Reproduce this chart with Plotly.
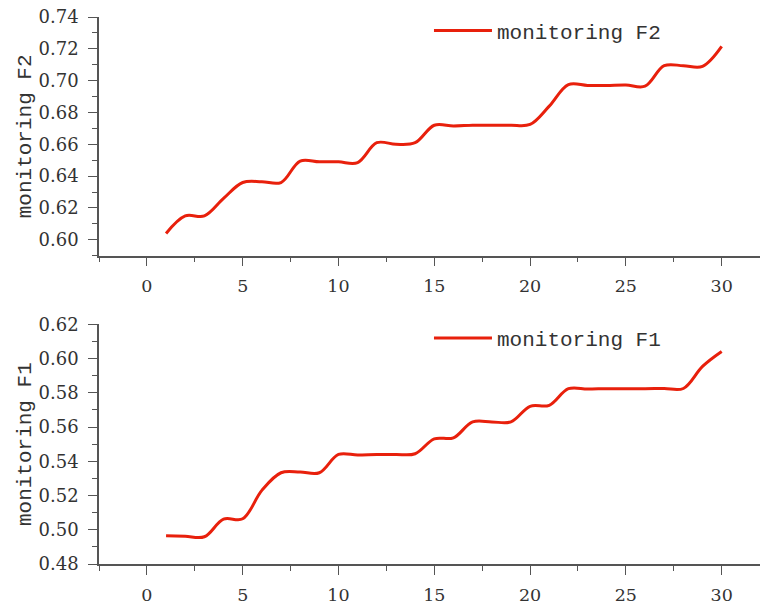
import plotly.graph_objects as go
from plotly.subplots import make_subplots

x_vals = list(range(1, 31))
f2_vals = [0.604, 0.615, 0.615, 0.626, 0.636, 0.6365, 0.636, 0.6495, 0.649, 0.649,
           0.6485, 0.661, 0.660, 0.661, 0.672, 0.6715, 0.672, 0.672, 0.672, 0.6725,
           0.684, 0.6975, 0.697, 0.697, 0.6973, 0.6965, 0.7094, 0.7094, 0.709, 0.7215]
f1_vals = [0.4965, 0.4962, 0.4959, 0.5062, 0.5064, 0.523, 0.5333, 0.5337, 0.5333, 0.544,
           0.5436, 0.544, 0.544, 0.5444, 0.5531, 0.5537, 0.563, 0.563, 0.563, 0.5721,
           0.5727, 0.5824, 0.5822, 0.5824, 0.5824, 0.5824, 0.5825, 0.5825, 0.5954, 0.6041]

FONT = "Liberation Mono"
NUMFONT = "DejaVu Serif"
RED = "#e8200c"
AX = "#555555"
TXT = "#333333"

fig = make_subplots(rows=2, cols=1, vertical_spacing=0.1255)
fig.add_trace(go.Scatter(x=x_vals, y=f2_vals, mode="lines", name="monitoring F2",
                         line=dict(color=RED, width=3, shape="spline", smoothing=1),
                         legend="legend", showlegend=True), row=1, col=1)
fig.add_trace(go.Scatter(x=x_vals, y=f1_vals, mode="lines", name="monitoring F1",
                         line=dict(color=RED, width=3, shape="spline", smoothing=1),
                         legend="legend2", showlegend=True), row=2, col=1)

xcommon = dict(range=[-2.5, 32], tickmode="linear", tick0=0, dtick=5, ticks="outside",
               ticklen=9, tickcolor=AX, showline=True, linecolor=AX, linewidth=1.5,
               showgrid=False, zeroline=False, ticklabelstandoff=5,
               tickfont=dict(family=NUMFONT, size=17.5, color=TXT),
               minor=dict(dtick=2.5, ticks="outside", ticklen=5, tickcolor=AX, showgrid=False))
ycommon = dict(tickmode="linear", dtick=0.02, ticks="outside", ticklen=9, tickcolor=AX,
               showline=True, linecolor=AX, linewidth=1.5, showgrid=False, zeroline=False,
               tickformat=".2f", ticklabelstandoff=6,
               tickfont=dict(family=NUMFONT, size=18, color=TXT),
               minor=dict(dtick=0.01, ticks="outside", ticklen=5, tickcolor=AX, showgrid=False),
               title_font=dict(family=FONT, size=21, color=TXT), title_standoff=1)

fig.update_xaxes(**xcommon, row=1, col=1)
fig.update_xaxes(**xcommon, row=2, col=1)
fig.update_yaxes(**ycommon, range=[0.59, 0.74], tick0=0.60, title_text="monitoring F2", row=1, col=1)
fig.update_yaxes(**ycommon, range=[0.48, 0.62], tick0=0.48, title_text="monitoring F1", row=2, col=1)

legcommon = dict(xanchor="left", yanchor="middle",
                 font=dict(family=FONT, size=21, color=TXT), bgcolor="rgba(0,0,0,0)",
                 itemwidth=58)
fig.update_layout(
    width=760, height=605,
    margin=dict(l=99, r=0, t=17, b=38),
    paper_bgcolor="white", plot_bgcolor="white",
    showlegend=True,
    legend=dict(x=0.4992, y=0.9745, **legcommon),
    legend2=dict(x=0.4992, y=0.4127, **legcommon),
)
fig.update_yaxes(domain=[0.5636, 1.0], row=1, col=1)
fig.update_yaxes(domain=[0.0, 0.4382], row=2, col=1)

fig.write_html("out.html")
